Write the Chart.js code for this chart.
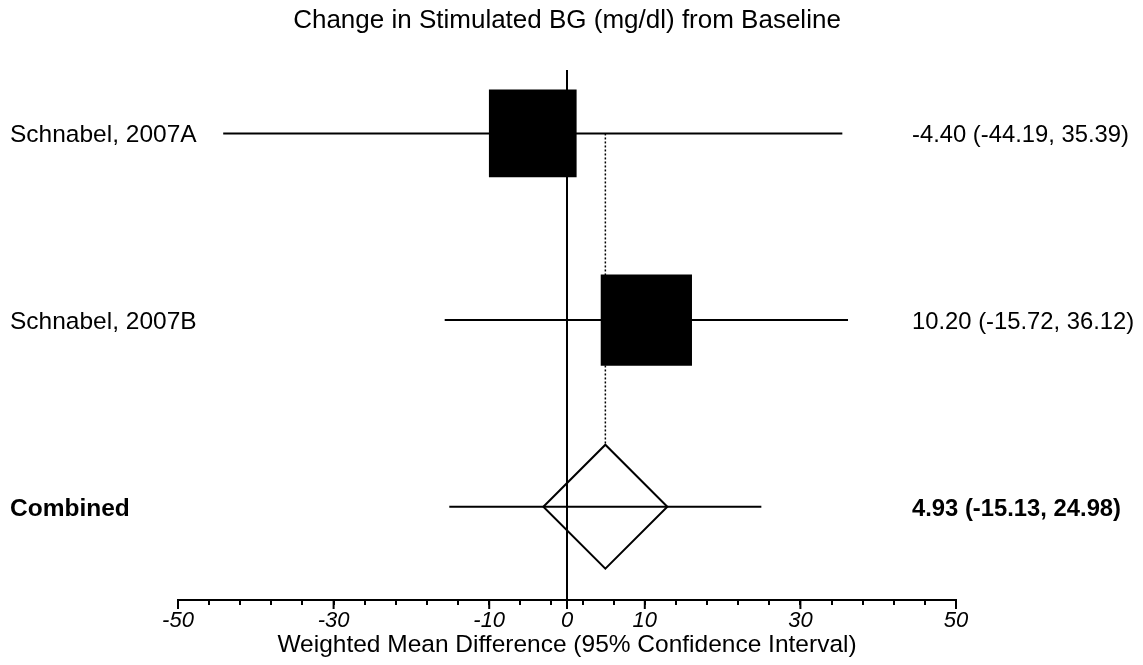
<!DOCTYPE html>
<html>
<head>
<meta charset="utf-8">
<script src="https://cdn.jsdelivr.net/npm/chart.js@4.4.0/dist/chart.umd.min.js"></script>
<style>
  html, body { margin: 0; padding: 0; background: #fff; }
</style>
</head>
<body>
<canvas id="forest" width="1143" height="665"></canvas>
<script>
// data
const studies = ['Schnabel, 2007A', 'Schnabel, 2007B', 'Combined'];
const estimates = [-4.40, 10.20, 4.93];
const lowerCI = [-44.19, -15.72, -15.13];
const upperCI = [35.39, 36.12, 24.98];
const weights = [49, 51]; // relative weight of each study (box size)

const tickMarks = [-50, -46, -42, -38, -34, -30, -26, -22, -18, -14, -10, -6, -2, 0,
                   2, 6, 10, 14, 18, 22, 26, 30, 34, 38, 42, 46, 50];
const tickLabels = [-50, -30, -10, 0, 10, 30, 50];

const FONT = 'Arial, "Liberation Sans", sans-serif';
const DIAMOND_R = 62;
const pooled = studies.length - 1;
const rowY = studies.map((s, i) => studies.length - i);

const ciSets = studies.map((s, i) => ({
    type: 'line',
    data: [{x: lowerCI[i], y: rowY[i]}, {x: upperCI[i], y: rowY[i]}],
    borderColor: '#000',
    borderWidth: 2,
    pointRadius: 0,
    order: 2
}));

const boxSet = {
    type: 'scatter',
    data: weights.map((w, i) => ({x: estimates[i], y: rowY[i]})),
    pointStyle: 'rect',
    backgroundColor: '#000',
    borderWidth: 0,
    pointRadius: (c) => {
        const x = c.chart.scales.x;
        const side = x.getPixelForValue(weights[c.dataIndex] * 0.23) - x.getPixelForValue(0);
        return Math.abs(side) / Math.SQRT2;
    },
    order: 0
};

const diamondSet = {
    type: 'scatter',
    data: [{x: estimates[pooled], y: rowY[pooled]}],
    pointStyle: 'rectRot',
    pointRadius: DIAMOND_R,
    backgroundColor: 'rgba(0,0,0,0)',
    borderColor: '#000',
    borderWidth: 2,
    order: 1
};

const forestExtras = {
    id: 'forestExtras',
    beforeDatasetsDraw(chart) {
        const {ctx, scales: {x, y}} = chart;
        const px = x.getPixelForValue(estimates[pooled]);
        ctx.save();
        ctx.strokeStyle = '#000';
        ctx.lineWidth = 1.5;
        ctx.setLineDash([2, 2]);
        ctx.beginPath();
        ctx.moveTo(px, y.getPixelForValue(rowY[0]));
        ctx.lineTo(px, y.getPixelForValue(rowY[pooled]) - DIAMOND_R);
        ctx.stroke();
        ctx.restore();
    },
    afterDraw(chart) {
        const {ctx, scales: {x, y}} = chart;
        const base = chart.chartArea.bottom;
        ctx.save();
        // longer ticks at the labelled values
        ctx.strokeStyle = '#000';
        ctx.lineWidth = 2;
        tickLabels.forEach(v => {
            const px = x.getPixelForValue(v);
            ctx.beginPath();
            ctx.moveTo(px, base);
            ctx.lineTo(px, base + 9);
            ctx.stroke();
        });
        // row labels, left and right
        ctx.fillStyle = '#000';
        ctx.textBaseline = 'alphabetic';
        ctx.textAlign = 'left';
        studies.forEach((name, i) => {
            const py = y.getPixelForValue(rowY[i]) + 9;
            const weight = i === pooled ? 'bold ' : '';
            ctx.font = weight + '24.5px ' + FONT;
            ctx.fillText(name, 10, py);
            const txt = `${estimates[i].toFixed(2)} (${lowerCI[i].toFixed(2)}, ${upperCI[i].toFixed(2)})`;
            ctx.font = weight + '23.8px ' + FONT;
            ctx.fillText(txt, 912, py);
        });
        ctx.restore();
    }
};

new Chart(document.getElementById('forest'), {
    type: 'scatter',
    data: { datasets: [boxSet, diamondSet, ...ciSets] },
    options: {
        responsive: false,
        animation: false,
        events: [],
        layout: { padding: { left: 178, right: 187, top: 0, bottom: 0 } },
        plugins: {
            legend: { display: false },
            tooltip: { enabled: false },
            title: {
                display: true,
                text: 'Change in Stimulated BG (mg/dl) from Baseline',
                color: '#000',
                font: { family: FONT, size: 26, weight: 'normal' },
                padding: { top: 5, bottom: 33.8 }
            }
        },
        scales: {
            x: {
                type: 'linear',
                min: -50,
                max: 50,
                afterBuildTicks: (s) => { s.ticks = tickMarks.map(v => ({value: v})); },
                afterFit: (s) => { s.height = 65; },
                ticks: {
                    autoSkip: false,
                    maxRotation: 0,
                    padding: 3,
                    color: '#000',
                    font: { family: FONT, size: 22, style: 'italic' },
                    callback: (v) => tickLabels.includes(v) ? String(v) : ''
                },
                grid: {
                    drawOnChartArea: true,
                    drawTicks: true,
                    tickLength: 5,
                    tickWidth: 2,
                    tickColor: '#000',
                    lineWidth: 2,
                    color: (c) => (c.tick && c.tick.value === 0) ? '#000' : 'rgba(0,0,0,0)'
                },
                border: { display: true, color: '#000', width: 2 },
                title: {
                    display: true,
                    text: 'Weighted Mean Difference (95% Confidence Interval)',
                    color: '#000',
                    font: { family: FONT, size: 24.5 },
                    padding: { top: 0, bottom: 5 }
                }
            },
            y: { type: 'linear', display: false, min: 0.5, max: 3.34 }
        }
    },
    plugins: [forestExtras]
});
</script>
</body>
</html>
